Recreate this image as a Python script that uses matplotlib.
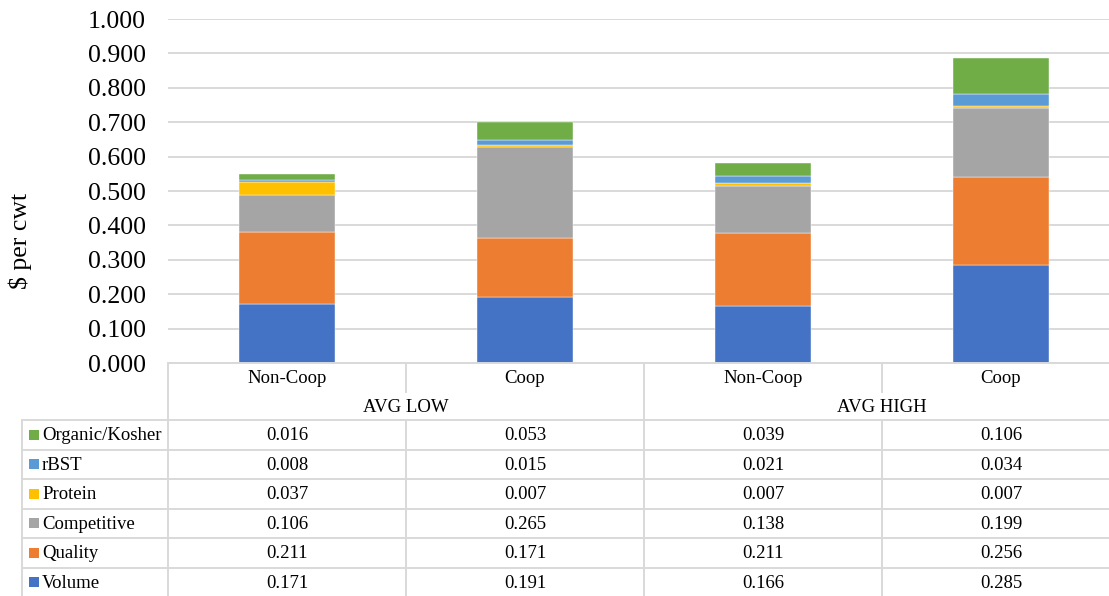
import matplotlib
matplotlib.use("Agg")
import matplotlib.pyplot as plt
import numpy as np

plt.rcParams['font.family'] = ['Liberation Serif', 'DejaVu Serif']

# ---- data ----
groups = ["AVG LOW", "AVG HIGH"]
categories = ["Non-Coop", "Coop", "Non-Coop", "Coop"]
series_names = ["Volume", "Quality", "Competitive", "Protein", "rBST", "Organic/Kosher"]
volume = [0.171, 0.191, 0.166, 0.285]
quality = [0.211, 0.171, 0.211, 0.256]
competitive = [0.106, 0.265, 0.138, 0.199]
protein = [0.037, 0.007, 0.007, 0.007]
rbst = [0.008, 0.015, 0.021, 0.034]
organic_kosher = [0.016, 0.053, 0.039, 0.106]
series_values = [volume, quality, competitive, protein, rbst, organic_kosher]
colors = ["#4472C4", "#ED7D31", "#A5A5A5", "#FFC000", "#5B9BD5", "#70AD47"]
y_ticks = [0.0, 0.1, 0.2, 0.3, 0.4, 0.5, 0.6, 0.7, 0.8, 0.9, 1.0]

# ---- layout (pixels) ----
W, H = 1109, 596
DPI = 100
plot_left, plot_right = 168, 1120
plot_top, plot_bottom = 19, 363
legend_left = 22
cat_row_bottom = 392
group_row_bottom = 420
row_h = 29.5
grid_color = "#D9D9D9"

fig = plt.figure(figsize=(W / DPI, H / DPI), dpi=DPI)

ax = fig.add_axes([plot_left / W, 1 - plot_bottom / H,
                   (plot_right - plot_left) / W, (plot_bottom - plot_top) / H])
n = len(categories)
x = np.arange(n) + 0.5
bottom = np.zeros(n)
for name, vals, c in zip(series_names, series_values, colors):
    ax.bar(x, vals, width=0.405, bottom=bottom, color=c, label=name,
           edgecolor="white", linewidth=0.3, zorder=3)
    bottom += np.array(vals)

ax.set_xlim(0, n)
ax.set_ylim(0, 1.0)
ax.set_yticks(y_ticks)
ax.set_yticklabels([f"{t:.3f}" for t in y_ticks], fontsize=18.5)
ax.tick_params(axis="y", length=0, pad=16)
ax.set_xticks([])
ax.yaxis.grid(True, color=grid_color, linewidth=1.4, zorder=0)
for s in ["top", "right", "left"]:
    ax.spines[s].set_visible(False)
ax.spines["bottom"].set_color(grid_color)
ax.spines["bottom"].set_linewidth(1.4)
ax.spines["bottom"].set_zorder(4)

fig.text(20 / W, 1 - 241 / H, "$ per cwt", rotation=90, fontsize=18.5,
         ha="center", va="center")

# ---- data table underneath ----
tax = fig.add_axes([0, 0, 1, 1])
tax.set_xlim(0, W)
tax.set_ylim(H, 0)
tax.axis("off")

col_w = (plot_right - plot_left) / n
col_edges = [plot_left + i * col_w for i in range(n + 1)]
lw = 1.4
fs = 13.5

# vertical lines
for i, xe in enumerate(col_edges):
    if i % 2 == 0:
        tax.plot([xe, xe], [plot_bottom, H + 5], color=grid_color, lw=lw)
    else:
        tax.plot([xe, xe], [plot_bottom, cat_row_bottom], color=grid_color, lw=lw)
        tax.plot([xe, xe], [group_row_bottom, H + 5], color=grid_color, lw=lw)
tax.plot([legend_left, legend_left], [group_row_bottom, H + 5], color=grid_color, lw=lw)

# horizontal lines
n_rows = len(series_names)
for r in range(n_rows + 1):
    yl = group_row_bottom + r * row_h
    tax.plot([legend_left, plot_right], [yl, yl], color=grid_color, lw=lw)

# category and group labels
for i, cat in enumerate(categories):
    tax.text((col_edges[i] + col_edges[i + 1]) / 2, (plot_bottom + cat_row_bottom) / 2 + 1,
             cat, ha="center", va="center", fontsize=fs)
for g, grp in enumerate(groups):
    tax.text(col_edges[2 * g + 1], (cat_row_bottom + group_row_bottom) / 2 + 1,
             grp, ha="center", va="center", fontsize=fs)

# rows: top row is the last series
for r, idx in enumerate(range(n_rows - 1, -1, -1)):
    yc = group_row_bottom + (r + 0.5) * row_h
    tax.add_patch(plt.Rectangle((29, yc - 5), 10, 10, color=colors[idx], lw=0))
    tax.text(42, yc + 1, series_names[idx], ha="left", va="center", fontsize=fs)
    for i, v in enumerate(series_values[idx]):
        tax.text((col_edges[i] + col_edges[i + 1]) / 2, yc + 1, f"{v:.3f}",
                 ha="center", va="center", fontsize=fs)

fig.savefig("out.png", dpi=DPI)
